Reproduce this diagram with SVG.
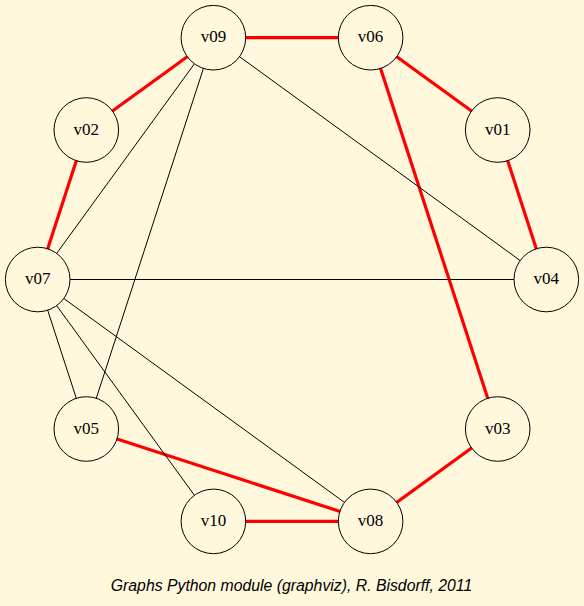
<svg xmlns="http://www.w3.org/2000/svg" width="584" height="606" viewBox="0 0 584 606">
<style>
.bg{fill:#fff8dc}
.n circle{fill:#fff8dc;stroke:#000;stroke-width:1}
.n text{font-family:"Liberation Serif","Times New Roman",serif;font-size:17px;text-anchor:middle;fill:#000}
.e{stroke:#000;stroke-width:1;fill:none}
.r{stroke:#ff0000;stroke-width:3.2;fill:none}
.cap{font-family:"Liberation Sans",Arial,sans-serif;font-size:15.8px;font-style:italic;text-anchor:middle;fill:#000}
</style>
<rect class="bg" x="0" y="0" width="584" height="606"/>
<g id="edges">
<line class="r" x1="213.4" y1="37.7" x2="370.6" y2="37.7"/>
<line class="r" x1="213.4" y1="37.7" x2="86.3" y2="130.0"/>
<line class="r" x1="86.3" y1="130.0" x2="37.7" y2="279.5"/>
<line class="r" x1="370.6" y1="37.7" x2="497.7" y2="130.0"/>
<line class="r" x1="497.7" y1="130.0" x2="546.3" y2="279.5"/>
<line class="r" x1="370.6" y1="37.7" x2="497.7" y2="429.0"/>
<line class="r" x1="497.7" y1="429.0" x2="370.6" y2="521.4"/>
<line class="r" x1="86.3" y1="429.0" x2="370.6" y2="521.4"/>
<line class="r" x1="213.4" y1="521.4" x2="370.6" y2="521.4"/>
<line class="e" x1="213.4" y1="37.7" x2="37.7" y2="279.5"/>
<line class="e" x1="213.4" y1="37.7" x2="86.3" y2="429.0"/>
<line class="e" x1="213.4" y1="37.7" x2="546.3" y2="279.5"/>
<line class="e" x1="37.7" y1="279.5" x2="546.3" y2="279.5"/>
<line class="e" x1="37.7" y1="279.5" x2="86.3" y2="429.0"/>
<line class="e" x1="37.7" y1="279.5" x2="213.4" y2="521.4"/>
<line class="e" x1="37.7" y1="279.5" x2="370.6" y2="521.4"/>
</g>
<g id="v09" class="n"><circle cx="213.4" cy="37.7" r="32.3"/><text x="213.4" y="42.2">v09</text></g>
<g id="v06" class="n"><circle cx="370.6" cy="37.7" r="32.3"/><text x="370.6" y="42.2">v06</text></g>
<g id="v02" class="n"><circle cx="86.3" cy="130.0" r="32.3"/><text x="86.3" y="134.5">v02</text></g>
<g id="v01" class="n"><circle cx="497.7" cy="130.0" r="32.3"/><text x="497.7" y="134.5">v01</text></g>
<g id="v07" class="n"><circle cx="37.7" cy="279.5" r="32.3"/><text x="37.7" y="284.0">v07</text></g>
<g id="v04" class="n"><circle cx="546.3" cy="279.5" r="32.3"/><text x="546.3" y="284.0">v04</text></g>
<g id="v05" class="n"><circle cx="86.3" cy="429.0" r="32.3"/><text x="86.3" y="433.5">v05</text></g>
<g id="v03" class="n"><circle cx="497.7" cy="429.0" r="32.3"/><text x="497.7" y="433.5">v03</text></g>
<g id="v10" class="n"><circle cx="213.4" cy="521.4" r="32.3"/><text x="213.4" y="525.9">v10</text></g>
<g id="v08" class="n"><circle cx="370.6" cy="521.4" r="32.3"/><text x="370.6" y="525.9">v08</text></g>
<text class="cap" x="291.5" y="590.5">Graphs Python module (graphviz), R. Bisdorff, 2011</text>
</svg>
